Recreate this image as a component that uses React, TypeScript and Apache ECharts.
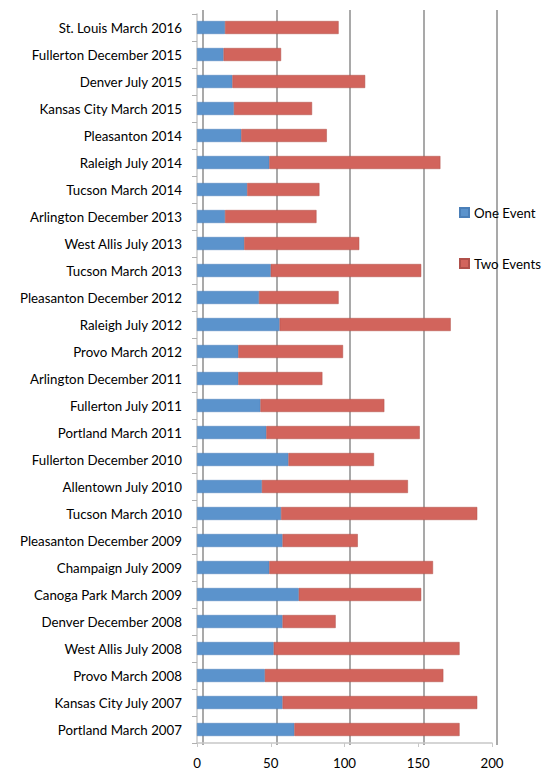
import React, { useEffect, useRef } from "react";
import * as echarts from "echarts";

const categories = [
  "St. Louis March 2016",
  "Fullerton December 2015",
  "Denver July 2015",
  "Kansas City March 2015",
  "Pleasanton 2014",
  "Raleigh July 2014",
  "Tucson March 2014",
  "Arlington December 2013",
  "West Allis July 2013",
  "Tucson March 2013",
  "Pleasanton December 2012",
  "Raleigh July 2012",
  "Provo March 2012",
  "Arlington December 2011",
  "Fullerton July 2011",
  "Portland March 2011",
  "Fullerton December 2010",
  "Allentown July 2010",
  "Tucson March 2010",
  "Pleasanton December 2009",
  "Champaign July 2009",
  "Canoga Park March 2009",
  "Denver December 2008",
  "West Allis July 2008",
  "Provo March 2008",
  "Kansas City July 2007",
  "Portland March 2007",
];

const oneEvent = [19, 18, 24, 25, 30, 49, 34, 19, 32, 50, 42, 56, 28, 28, 43, 47, 62, 44, 57, 58, 49, 69, 58, 52, 46, 58, 66];
const twoEvents = [77, 39, 90, 53, 58, 116, 49, 62, 78, 102, 54, 116, 71, 57, 84, 104, 58, 99, 133, 51, 111, 83, 36, 126, 121, 132, 112];

const xTicks = [0, 50, 100, 150, 200];

export default function App() {
  const ref = useRef<HTMLDivElement>(null);
  useEffect(() => {
    if (!ref.current) return;
    const chart = echarts.init(ref.current, undefined, { renderer: "svg" });
    const font = "Lato, 'Open Sans', sans-serif";
    chart.setOption({
      animation: false,
      backgroundColor: "#ffffff",
      textStyle: { fontFamily: font },
      legend: {
        orient: "vertical",
        left: 454,
        top: 201,
        itemWidth: 9,
        itemHeight: 9,
        itemGap: 38,
        icon: "rect",
        textStyle: { fontSize: 13.3, color: "#000", fontFamily: font },
        data: ["One Event", "Two Events"],
      },
      grid: [
        { left: 197, right: 56, top: 14, bottom: 25 },
        { left: 203, right: 51, top: 10, bottom: 24 },
      ],
      xAxis: [
        {
          gridIndex: 0,
          type: "value",
          min: xTicks[0],
          max: xTicks[xTicks.length - 1],
          interval: 50,
          axisLine: { show: true, lineStyle: { color: "#c8c8c8", width: 1.5 } },
          axisTick: { show: true, length: 4, lineStyle: { color: "#c8c8c8" } },
          splitLine: { show: false },
          axisLabel: { fontSize: 13.3, color: "#000", margin: 13, fontFamily: font },
        },
        {
          gridIndex: 1,
          type: "value",
          min: xTicks[0],
          max: xTicks[xTicks.length - 1],
          interval: 50,
          axisLine: { show: false },
          axisTick: { show: false },
          axisLabel: { show: false },
          splitLine: { show: true, lineStyle: { color: "#8c8c8c", width: 1.5 } },
        },
      ],
      yAxis: [
        {
          gridIndex: 0,
          type: "category",
          data: categories,
          inverse: true,
          axisLine: { show: true, lineStyle: { color: "#c8c8c8", width: 1.5 } },
          axisTick: { show: true, length: 5, lineStyle: { color: "#b0b0b0" } },
          axisLabel: { fontSize: 13.3, color: "#000", margin: 15, fontFamily: font },
        },
        {
          gridIndex: 1,
          type: "category",
          data: categories,
          inverse: true,
          show: false,
        },
      ],
      series: [
        {
          name: "One Event",
          type: "bar",
          stack: "total",
          xAxisIndex: 0,
          yAxisIndex: 0,
          barWidth: 13,
          data: oneEvent,
          itemStyle: { color: "#5b93cc", borderColor: "#4a7fb8", borderWidth: 0.5 },
        },
        {
          name: "Two Events",
          type: "bar",
          stack: "total",
          xAxisIndex: 0,
          yAxisIndex: 0,
          barWidth: 13,
          data: twoEvents,
          itemStyle: { color: "#d2645c", borderColor: "#b0504a", borderWidth: 0.5 },
        },
      ],
    });
    return () => chart.dispose();
  }, []);
  return (
    <div
      ref={ref}
      style={{ position: "fixed", left: 0, top: 0, width: 548, height: 769 }}
    />
  );
}
